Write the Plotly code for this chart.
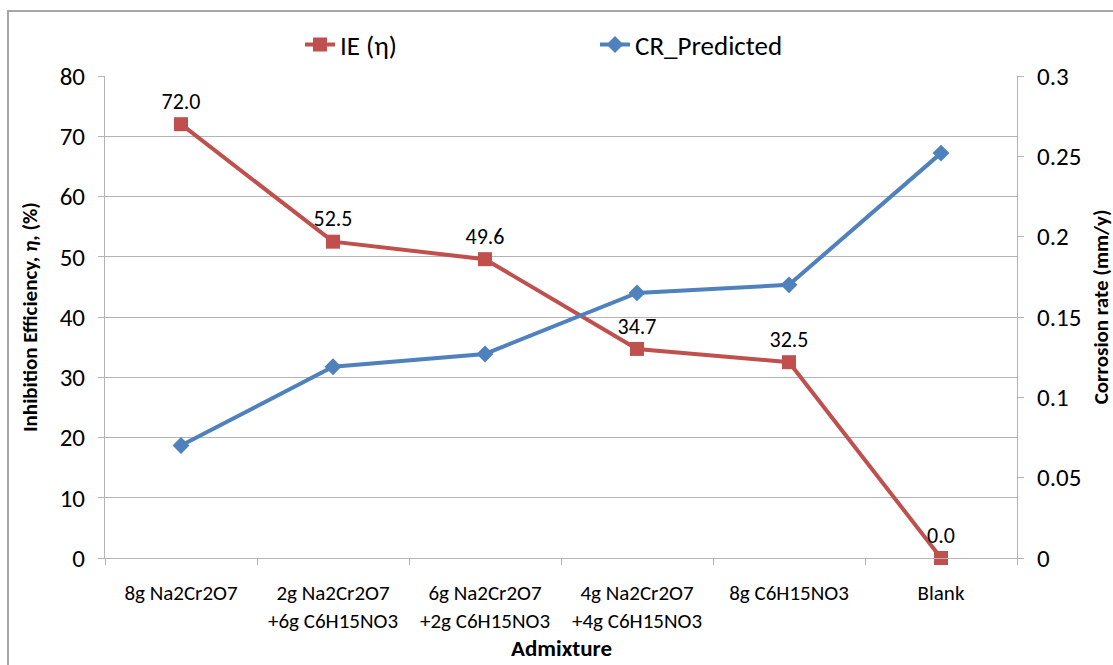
import plotly.graph_objects as go

# Admixture categories (two-line labels) and measured series
admixtures = [
    "8g Na2Cr2O7",
    "2g Na2Cr2O7<br>+6g C6H15NO3",
    "6g Na2Cr2O7<br>+2g C6H15NO3",
    "4g Na2Cr2O7<br>+4g C6H15NO3",
    "8g C6H15NO3",
    "Blank",
]
ie_values = [72.0, 52.5, 49.6, 34.7, 32.5, 0.0]          # inhibition efficiency, %
cr_predicted = [0.070, 0.119, 0.127, 0.165, 0.170, 0.252]  # corrosion rate, mm/y

left_ticks = [0, 10, 20, 30, 40, 50, 60, 70, 80]
right_ticks = [0, 0.05, 0.1, 0.15, 0.2, 0.25, 0.3]
right_ticktext = ["0", "0.05", "0.1", "0.15", "0.2", "0.25", "0.3"]

FONT = "Calibri, Carlito, 'Liberation Sans Narrow', 'Noto Sans', sans-serif"
RED = "#C0504D"
BLUE = "#4F81BD"
GRID = "#B4B4B4"

fig = go.Figure()

fig.add_trace(go.Scatter(
    x=admixtures, y=ie_values, name="IE (η)",
    mode="lines+markers+text",
    line=dict(color=RED, width=4),
    marker=dict(symbol="square", size=14, color=RED),
    text=[f"{v:.1f}" for v in ie_values],
    textposition="top center",
    textfont=dict(family=FONT, size=22, color="#000000"),
    cliponaxis=False,
))

fig.add_trace(go.Scatter(
    x=admixtures, y=cr_predicted, name="CR_Predicted",
    mode="lines+markers", yaxis="y2",
    line=dict(color=BLUE, width=4),
    marker=dict(symbol="diamond", size=13, color=BLUE),
    cliponaxis=False,
))

fig.update_layout(
    width=1113, height=665,
    margin=dict(l=105, r=96, t=76, b=107),
    paper_bgcolor="white", plot_bgcolor="white",
    font=dict(family=FONT, color="#000000"),
    showlegend=True,
    legend=dict(
        orientation="h", x=(300 - 105) / 912, y=(558 - 45) / 482,
        xanchor="left", yanchor="middle",
        font=dict(family=FONT, size=27),
        entrywidth=250, traceorder="normal",
        bgcolor="rgba(0,0,0,0)",
    ),
    xaxis=dict(
        type="category", range=[-0.5, 5.5],
        showline=True, linecolor=GRID, linewidth=1,
        ticks="outside", tickson="boundaries", ticklen=6, tickcolor=GRID,
        showgrid=False, tickfont=dict(family=FONT, size=21),
        ticklabelstandoff=16, zeroline=False,
    ),
    yaxis=dict(
        range=[0, 80], tickvals=left_ticks,
        showline=True, linecolor=GRID, linewidth=1,
        ticks="outside", ticklen=6, tickcolor=GRID,
        showgrid=True, gridcolor=GRID, gridwidth=1,
        tickfont=dict(family=FONT, size=25), ticklabelstandoff=8,
        zeroline=False,
    ),
    yaxis2=dict(
        range=[0, 0.3], tickvals=right_ticks, ticktext=right_ticktext,
        overlaying="y", side="right",
        showline=True, linecolor=GRID, linewidth=1,
        ticks="outside", ticklen=6, tickcolor=GRID,
        showgrid=False, tickfont=dict(family=FONT, size=25),
        ticklabelstandoff=8, zeroline=False,
    ),
    shapes=[dict(
        type="rect", xref="paper", yref="paper",
        x0=(8 - 105) / 912, x1=1.3, y0=-0.4, y1=(558 - 11) / 482,
        line=dict(color="#A6A6A6", width=2), fillcolor="rgba(0,0,0,0)",
        layer="below",
    )],
    annotations=[
        dict(text="<b>Inhibition Efficiency, <i>η</i>, (%)</b>",
             xref="paper", yref="paper", x=(30 - 105) / 912, y=0.5,
             textangle=-90, showarrow=False, font=dict(family=FONT, size=21),
             xanchor="center", yanchor="middle"),
        dict(text="<b>Corrosion rate (mm/y)</b>",
             xref="paper", yref="paper", x=(1101 - 105) / 912, y=0.52,
             textangle=-90, showarrow=False, font=dict(family=FONT, size=21),
             xanchor="center", yanchor="middle"),
        dict(text="<b>Admixture</b>",
             xref="paper", yref="paper", x=(561 - 105) / 912, y=(558 - 648) / 482,
             showarrow=False, font=dict(family=FONT, size=23),
             xanchor="center", yanchor="middle"),
    ],
)

fig.write_html("out.html")
